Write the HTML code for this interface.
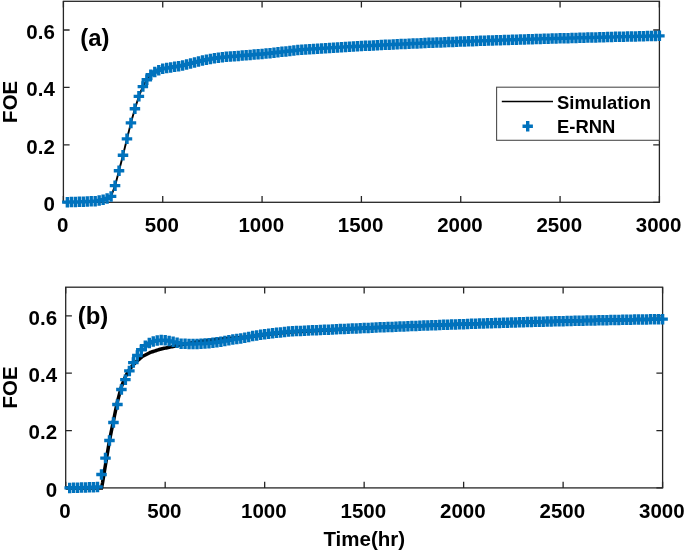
<!DOCTYPE html>
<html lang="en">
<head>
<meta charset="utf-8">
<title>FOE vs Time</title>
<style>
html,body{margin:0;padding:0;background:#fff;}
body{width:685px;height:552px;overflow:hidden;}
svg{display:block;}
</style>
</head>
<body>
<svg width="685" height="552" viewBox="0 0 685 552">
<rect width="685" height="552" fill="#fff"/>
<rect x="63.4" y="1.3" width="596.0" height="201.0" fill="none" stroke="#262626" stroke-width="1.3"/><path d="M63.40 202.3v-6.2M63.40 1.3v6.2M162.73 202.3v-6.2M162.73 1.3v6.2M262.07 202.3v-6.2M262.07 1.3v6.2M361.40 202.3v-6.2M361.40 1.3v6.2M460.73 202.3v-6.2M460.73 1.3v6.2M560.07 202.3v-6.2M560.07 1.3v6.2M659.40 202.3v-6.2M659.40 1.3v6.2M63.4 202.30h6.2M659.4 202.30h-6.2M63.4 144.87h6.2M659.4 144.87h-6.2M63.4 87.44h6.2M63.4 30.01h6.2M659.4 30.01h-6.2" stroke="#262626" stroke-width="1.3" fill="none"/>
<path d="M63.40 202.30L64.39 202.26L65.39 202.23L66.38 202.19L67.37 202.16L68.37 202.13L69.36 202.10L70.35 202.08L71.35 202.05L72.34 202.02L73.33 201.99L74.33 201.97L75.32 201.94L76.31 201.91L77.31 201.89L78.30 201.86L79.29 201.83L80.29 201.81L81.28 201.78L82.27 201.75L83.27 201.73L84.26 201.68L85.25 201.63L86.25 201.58L87.24 201.53L88.23 201.49L89.23 201.44L90.22 201.39L91.21 201.34L92.21 201.30L93.20 201.25L94.19 201.20L95.19 201.15L96.18 200.97L97.17 200.79L98.17 200.61L99.16 200.43L100.15 200.25L101.15 200.07L102.14 199.90L103.13 199.72L104.13 199.39L105.12 199.07L106.11 198.75L107.11 198.42L108.10 197.92L109.09 197.42L110.09 196.92L111.08 196.41L112.07 193.72L113.07 191.03L114.06 188.34L115.05 185.65L116.05 181.91L117.04 178.18L118.03 174.45L119.03 170.71L120.02 166.84L121.01 162.96L122.01 159.09L123.00 155.21L123.99 151.12L124.99 147.03L125.98 142.93L126.97 138.84L127.97 134.85L128.96 130.86L129.95 126.87L130.95 122.88L131.94 119.33L132.93 115.78L133.93 112.24L134.92 108.69L135.91 105.60L136.91 102.52L137.90 99.43L138.89 96.34L139.89 93.90L140.88 91.46L141.87 89.02L142.87 86.58L143.86 84.86L144.85 83.14L145.85 81.41L146.84 79.69L147.83 78.47L148.83 77.25L149.82 76.03L150.81 74.81L151.81 74.09L152.80 73.37L153.79 72.66L154.79 71.94L155.78 71.51L156.77 71.08L157.77 70.65L158.76 70.21L159.75 69.86L160.75 69.50L161.74 69.14L162.73 68.78L163.73 68.61L164.72 68.45L165.71 68.28L166.71 68.12L167.70 67.95L168.69 67.79L169.69 67.62L170.68 67.46L171.67 67.29L172.67 67.13L173.66 66.96L174.65 66.80L175.65 66.63L176.64 66.47L177.63 66.30L178.63 66.14L179.62 65.97L180.61 65.81L181.61 65.64L182.60 65.48L183.59 65.21L184.59 64.95L185.58 64.68L186.57 64.41L187.57 64.16L188.56 63.90L189.55 63.64L190.55 63.38L191.54 63.14L192.53 62.89L193.53 62.65L194.52 62.40L195.51 62.16L196.51 61.92L197.50 61.67L198.49 61.43L199.49 61.20L200.48 60.97L201.47 60.74L202.47 60.51L203.46 60.30L204.45 60.09L205.45 59.88L206.44 59.68L207.43 59.49L208.43 59.30L209.42 59.12L210.41 58.93L211.41 58.76L212.40 58.60L213.39 58.43L214.39 58.27L215.38 58.13L216.37 57.98L217.37 57.84L218.36 57.69L219.35 57.58L220.35 57.47L221.34 57.35L222.33 57.24L223.33 57.14L224.32 57.05L225.31 56.96L226.31 56.86L227.30 56.78L228.29 56.69L229.29 56.60L230.28 56.52L231.27 56.44L232.27 56.36L233.26 56.28L234.25 56.20L235.25 56.12L236.24 56.04L237.23 55.96L238.23 55.89L239.22 55.80L240.21 55.71L241.21 55.63L242.20 55.54L243.19 55.46L244.19 55.38L245.18 55.30L246.17 55.23L247.17 55.15L248.16 55.08L249.15 55.01L250.15 54.94L251.14 54.86L252.13 54.78L253.13 54.70L254.12 54.62L255.11 54.54L256.11 54.46L257.10 54.39L258.09 54.31L259.09 54.23L260.08 54.16L261.07 54.09L262.07 54.02L263.06 53.92L264.05 53.82L265.05 53.72L266.04 53.62L267.03 53.51L268.03 53.40L269.02 53.29L270.01 53.19L271.01 53.07L272.00 52.96L272.99 52.84L273.99 52.73L274.98 52.62L275.97 52.51L276.97 52.40L277.96 52.30L278.95 52.18L279.95 52.07L280.94 51.95L281.93 51.84L282.93 51.73L283.92 51.62L284.91 51.51L285.91 51.41L286.90 51.30L287.89 51.19L288.89 51.08L289.88 50.98L290.87 50.87L291.87 50.76L292.86 50.65L293.85 50.55L294.85 50.43L295.84 50.32L296.83 50.20L297.83 50.09L298.82 49.98L299.81 49.87L300.81 49.76L301.80 49.65L302.79 49.59L303.79 49.53L304.78 49.47L305.77 49.40L306.77 49.34L307.76 49.28L308.75 49.21L309.75 49.15L310.74 49.09L311.73 49.02L312.73 48.96L313.72 48.90L314.71 48.83L315.71 48.77L316.70 48.71L317.69 48.64L318.69 48.58L319.68 48.52L320.67 48.45L321.67 48.39L322.66 48.33L323.65 48.27L324.65 48.20L325.64 48.14L326.63 48.08L327.63 48.01L328.62 47.95L329.61 47.89L330.61 47.82L331.60 47.76L332.59 47.70L333.59 47.63L334.58 47.57L335.57 47.51L336.57 47.44L337.56 47.38L338.55 47.32L339.55 47.25L340.54 47.19L341.53 47.13L342.53 47.08L343.52 47.02L344.51 46.97L345.51 46.92L346.50 46.87L347.49 46.81L348.49 46.76L349.48 46.71L350.47 46.66L351.47 46.60L352.46 46.55L353.45 46.50L354.45 46.45L355.44 46.39L356.43 46.34L357.43 46.29L358.42 46.24L359.41 46.18L360.41 46.13L361.40 46.08L362.39 46.03L363.39 45.98L364.38 45.92L365.37 45.87L366.37 45.82L367.36 45.77L368.35 45.71L369.35 45.66L370.34 45.61L371.33 45.56L372.33 45.50L373.32 45.45L374.31 45.40L375.31 45.35L376.30 45.29L377.29 45.24L378.29 45.19L379.28 45.14L380.27 45.08L381.27 45.03L382.26 44.99L383.25 44.94L384.25 44.89L385.24 44.85L386.23 44.80L387.23 44.76L388.22 44.71L389.21 44.66L390.21 44.62L391.20 44.57L392.19 44.53L393.19 44.48L394.18 44.43L395.17 44.39L396.17 44.34L397.16 44.30L398.15 44.25L399.15 44.20L400.14 44.16L401.13 44.11L402.13 44.07L403.12 44.02L404.11 43.98L405.11 43.93L406.10 43.88L407.09 43.84L408.09 43.79L409.08 43.75L410.07 43.70L411.07 43.65L412.06 43.61L413.05 43.56L414.05 43.52L415.04 43.47L416.03 43.42L417.03 43.38L418.02 43.33L419.01 43.29L420.01 43.24L421.00 43.19L421.99 43.15L422.99 43.11L423.98 43.07L424.97 43.03L425.97 42.99L426.96 42.95L427.95 42.91L428.95 42.87L429.94 42.83L430.93 42.79L431.93 42.75L432.92 42.71L433.91 42.67L434.91 42.63L435.90 42.59L436.89 42.55L437.89 42.51L438.88 42.47L439.87 42.43L440.87 42.39L441.86 42.35L442.85 42.31L443.85 42.27L444.84 42.23L445.83 42.19L446.83 42.15L447.82 42.11L448.81 42.07L449.81 42.03L450.80 41.99L451.79 41.95L452.79 41.91L453.78 41.87L454.77 41.83L455.77 41.79L456.76 41.75L457.75 41.71L458.75 41.67L459.74 41.63L460.73 41.59L461.73 41.55L462.72 41.51L463.71 41.48L464.71 41.44L465.70 41.41L466.69 41.37L467.69 41.33L468.68 41.30L469.67 41.26L470.67 41.23L471.66 41.19L472.65 41.16L473.65 41.12L474.64 41.08L475.63 41.05L476.63 41.01L477.62 40.98L478.61 40.94L479.61 40.90L480.60 40.87L481.59 40.83L482.59 40.80L483.58 40.76L484.57 40.72L485.57 40.69L486.56 40.65L487.55 40.62L488.55 40.58L489.54 40.55L490.53 40.51L491.53 40.47L492.52 40.44L493.51 40.40L494.51 40.37L495.50 40.33L496.49 40.29L497.49 40.26L498.48 40.22L499.47 40.19L500.47 40.15L501.46 40.12L502.45 40.09L503.45 40.06L504.44 40.03L505.43 40.00L506.43 39.97L507.42 39.93L508.41 39.90L509.41 39.87L510.40 39.84L511.39 39.81L512.39 39.78L513.38 39.75L514.37 39.72L515.37 39.69L516.36 39.66L517.35 39.63L518.35 39.59L519.34 39.56L520.33 39.53L521.33 39.50L522.32 39.47L523.31 39.44L524.31 39.41L525.30 39.38L526.29 39.35L527.29 39.32L528.28 39.29L529.27 39.26L530.27 39.22L531.26 39.19L532.25 39.16L533.25 39.13L534.24 39.10L535.23 39.07L536.23 39.04L537.22 39.01L538.21 38.98L539.21 38.95L540.20 38.92L541.19 38.89L542.19 38.86L543.18 38.83L544.17 38.80L545.17 38.78L546.16 38.75L547.15 38.72L548.15 38.69L549.14 38.66L550.13 38.64L551.13 38.61L552.12 38.58L553.11 38.55L554.11 38.52L555.10 38.50L556.09 38.47L557.09 38.44L558.08 38.41L559.07 38.38L560.07 38.36L561.06 38.33L562.05 38.30L563.05 38.27L564.04 38.24L565.03 38.22L566.03 38.19L567.02 38.16L568.01 38.13L569.01 38.10L570.00 38.08L570.99 38.05L571.99 38.02L572.98 37.99L573.97 37.96L574.97 37.94L575.96 37.91L576.95 37.88L577.95 37.85L578.94 37.82L579.93 37.80L580.93 37.77L581.92 37.74L582.91 37.72L583.91 37.69L584.90 37.67L585.89 37.64L586.89 37.61L587.88 37.59L588.87 37.56L589.87 37.54L590.86 37.51L591.85 37.49L592.85 37.46L593.84 37.43L594.83 37.41L595.83 37.38L596.82 37.36L597.81 37.33L598.81 37.30L599.80 37.28L600.79 37.25L601.79 37.23L602.78 37.20L603.77 37.18L604.77 37.15L605.76 37.12L606.75 37.10L607.75 37.07L608.74 37.05L609.73 37.02L610.73 36.99L611.72 36.97L612.71 36.94L613.71 36.92L614.70 36.89L615.69 36.87L616.69 36.84L617.68 36.81L618.67 36.79L619.67 36.76L620.66 36.74L621.65 36.72L622.65 36.69L623.64 36.67L624.63 36.65L625.63 36.62L626.62 36.60L627.61 36.58L628.61 36.56L629.60 36.53L630.59 36.51L631.59 36.49L632.58 36.46L633.57 36.44L634.57 36.42L635.56 36.39L636.55 36.37L637.55 36.35L638.54 36.33L639.53 36.30L640.53 36.28L641.52 36.26L642.51 36.23L643.51 36.21L644.50 36.19L645.49 36.16L646.49 36.14L647.48 36.12L648.47 36.10L649.47 36.07L650.46 36.05L651.45 36.03L652.45 36.00L653.44 35.98L654.43 35.96L655.43 35.94L656.42 35.91L657.41 35.89L658.41 35.87L659.40 35.84" fill="none" stroke="#000" stroke-width="1.9" stroke-linejoin="round"/>
<path d="M62.12 202.16H72.62M67.37 196.91V207.41M66.10 202.05H76.60M71.35 196.80V207.30M70.07 201.94H80.57M75.32 196.69V207.19M74.04 201.83H84.54M79.29 196.58V207.08M78.02 201.73H88.52M83.27 196.48V206.98M81.99 201.53H92.49M87.24 196.28V206.78M85.96 201.34H96.46M91.21 196.09V206.59M89.94 201.15H100.44M95.19 195.90V206.40M93.91 200.43H104.41M99.16 195.18V205.68M97.88 199.72H108.38M103.13 194.47V204.97M101.86 198.42H112.36M107.11 193.17V203.67M105.83 196.41H116.33M111.08 191.16V201.66M109.80 185.65H120.30M115.05 180.40V190.90M113.78 170.71H124.28M119.03 165.46V175.96M117.75 155.21H128.25M123.00 149.96V160.46M121.72 138.84H132.22M126.97 133.59V144.09M125.70 122.88H136.20M130.95 117.63V128.13M129.67 108.69H140.17M134.92 103.44V113.94M133.64 96.34H144.14M138.89 91.09V101.59M137.62 86.58H148.12M142.87 81.33V91.83M141.59 79.69H152.09M146.84 74.44V84.94M145.56 74.81H156.06M150.81 69.56V80.06M149.54 71.94H160.04M154.79 66.69V77.19M153.51 70.21H164.01M158.76 64.96V75.46M157.48 68.78H167.98M162.73 63.53V74.03M161.46 68.12H171.96M166.71 62.87V73.37M165.43 67.46H175.93M170.68 62.21V72.71M169.40 66.80H179.90M174.65 61.55V72.05M173.38 66.14H183.88M178.63 60.89V71.39M177.35 65.48H187.85M182.60 60.23V70.73M181.32 64.41H191.82M186.57 59.16V69.66M185.30 63.38H195.80M190.55 58.13V68.63M189.27 62.40H199.77M194.52 57.15V67.65M193.24 61.43H203.74M198.49 56.18V66.68M197.22 60.51H207.72M202.47 55.26V65.76M201.19 59.68H211.69M206.44 54.43V64.93M205.16 58.93H215.66M210.41 53.68V64.18M209.14 58.27H219.64M214.39 53.02V63.52M213.11 57.69H223.61M218.36 52.44V62.94M217.08 57.24H227.58M222.33 51.99V62.49M221.06 56.86H231.56M226.31 51.61V62.11M225.03 56.52H235.53M230.28 51.27V61.77M229.00 56.20H239.50M234.25 50.95V61.45M232.98 55.89H243.48M238.23 50.64V61.14M236.95 55.54H247.45M242.20 50.29V60.79M240.92 55.23H251.42M246.17 49.98V60.48M244.90 54.94H255.40M250.15 49.69V60.19M248.87 54.62H259.37M254.12 49.37V59.87M252.84 54.31H263.34M258.09 49.06V59.56M256.82 54.02H267.32M262.07 48.77V59.27M260.79 53.62H271.29M266.04 48.37V58.87M264.76 53.19H275.26M270.01 47.94V58.44M268.74 52.73H279.24M273.99 47.48V57.98M272.71 52.30H283.21M277.96 47.05V57.55M276.68 51.84H287.18M281.93 46.59V57.09M280.66 51.41H291.16M285.91 46.16V56.66M284.63 50.98H295.13M289.88 45.73V56.23M288.60 50.55H299.10M293.85 45.30V55.80M292.58 50.09H303.08M297.83 44.84V55.34M296.55 49.65H307.05M301.80 44.40V54.90M300.52 49.40H311.02M305.77 44.15V54.65M304.50 49.15H315.00M309.75 43.90V54.40M308.47 48.90H318.97M313.72 43.65V54.15M312.44 48.64H322.94M317.69 43.39V53.89M316.42 48.39H326.92M321.67 43.14V53.64M320.39 48.14H330.89M325.64 42.89V53.39M324.36 47.89H334.86M329.61 42.64V53.14M328.34 47.63H338.84M333.59 42.38V52.88M332.31 47.38H342.81M337.56 42.13V52.63M336.28 47.13H346.78M341.53 41.88V52.38M340.26 46.92H350.76M345.51 41.67V52.17M344.23 46.71H354.73M349.48 41.46V51.96M348.20 46.50H358.70M353.45 41.25V51.75M352.18 46.29H362.68M357.43 41.04V51.54M356.15 46.08H366.65M361.40 40.83V51.33M360.12 45.87H370.62M365.37 40.62V51.12M364.10 45.66H374.60M369.35 40.41V50.91M368.07 45.45H378.57M373.32 40.20V50.70M372.04 45.24H382.54M377.29 39.99V50.49M376.02 45.03H386.52M381.27 39.78V50.28M379.99 44.85H390.49M385.24 39.60V50.10M383.96 44.66H394.46M389.21 39.41V49.91M387.94 44.48H398.44M393.19 39.23V49.73M391.91 44.30H402.41M397.16 39.05V49.55M395.88 44.11H406.38M401.13 38.86V49.36M399.86 43.93H410.36M405.11 38.68V49.18M403.83 43.75H414.33M409.08 38.50V49.00M407.80 43.56H418.30M413.05 38.31V48.81M411.78 43.38H422.28M417.03 38.13V48.63M415.75 43.19H426.25M421.00 37.94V48.44M419.72 43.03H430.22M424.97 37.78V48.28M423.70 42.87H434.20M428.95 37.62V48.12M427.67 42.71H438.17M432.92 37.46V47.96M431.64 42.55H442.14M436.89 37.30V47.80M435.62 42.39H446.12M440.87 37.14V47.64M439.59 42.23H450.09M444.84 36.98V47.48M443.56 42.07H454.06M448.81 36.82V47.32M447.54 41.91H458.04M452.79 36.66V47.16M451.51 41.75H462.01M456.76 36.50V47.00M455.48 41.59H465.98M460.73 36.34V46.84M459.46 41.44H469.96M464.71 36.19V46.69M463.43 41.30H473.93M468.68 36.05V46.55M467.40 41.16H477.90M472.65 35.91V46.41M471.38 41.01H481.88M476.63 35.76V46.26M475.35 40.87H485.85M480.60 35.62V46.12M479.32 40.72H489.82M484.57 35.47V45.97M483.30 40.58H493.80M488.55 35.33V45.83M487.27 40.44H497.77M492.52 35.19V45.69M491.24 40.29H501.74M496.49 35.04V45.54M495.22 40.15H505.72M500.47 34.90V45.40M499.19 40.03H509.69M504.44 34.78V45.28M503.16 39.90H513.66M508.41 34.65V45.15M507.14 39.78H517.64M512.39 34.53V45.03M511.11 39.66H521.61M516.36 34.41V44.91M515.08 39.53H525.58M520.33 34.28V44.78M519.06 39.41H529.56M524.31 34.16V44.66M523.03 39.29H533.53M528.28 34.04V44.54M527.00 39.16H537.50M532.25 33.91V44.41M530.98 39.04H541.48M536.23 33.79V44.29M534.95 38.92H545.45M540.20 33.67V44.17M538.92 38.80H549.42M544.17 33.55V44.05M542.90 38.69H553.40M548.15 33.44V43.94M546.87 38.58H557.37M552.12 33.33V43.83M550.84 38.47H561.34M556.09 33.22V43.72M554.82 38.36H565.32M560.07 33.11V43.61M558.79 38.24H569.29M564.04 32.99V43.49M562.76 38.13H573.26M568.01 32.88V43.38M566.74 38.02H577.24M571.99 32.77V43.27M570.71 37.91H581.21M575.96 32.66V43.16M574.68 37.80H585.18M579.93 32.55V43.05M578.66 37.69H589.16M583.91 32.44V42.94M582.63 37.59H593.13M587.88 32.34V42.84M586.60 37.49H597.10M591.85 32.24V42.74M590.58 37.38H601.08M595.83 32.13V42.63M594.55 37.28H605.05M599.80 32.03V42.53M598.52 37.18H609.02M603.77 31.93V42.43M602.50 37.07H613.00M607.75 31.82V42.32M606.47 36.97H616.97M611.72 31.72V42.22M610.44 36.87H620.94M615.69 31.62V42.12M614.42 36.76H624.92M619.67 31.51V42.01M618.39 36.67H628.89M623.64 31.42V41.92M622.36 36.58H632.86M627.61 31.33V41.83M626.34 36.49H636.84M631.59 31.24V41.74M630.31 36.39H640.81M635.56 31.14V41.64M634.28 36.30H644.78M639.53 31.05V41.55M638.26 36.21H648.76M643.51 30.96V41.46M642.23 36.12H652.73M647.48 30.87V41.37M646.20 36.03H656.70M651.45 30.78V41.28M650.18 35.94H660.68M655.43 30.69V41.19M654.15 35.84H664.65M659.40 30.59V41.09" fill="none" stroke="#0072BD" stroke-width="3.4"/>
<rect x="65.7" y="287.2" width="596.9" height="200.7" fill="none" stroke="#262626" stroke-width="1.3"/><path d="M65.70 487.9v-6.2M65.70 287.2v6.2M165.18 487.9v-6.2M165.18 287.2v6.2M264.67 487.9v-6.2M264.67 287.2v6.2M364.15 487.9v-6.2M364.15 287.2v6.2M463.63 487.9v-6.2M463.63 287.2v6.2M563.12 487.9v-6.2M563.12 287.2v6.2M662.60 487.9v-6.2M662.60 287.2v6.2M65.7 487.90h6.2M662.6 487.90h-6.2M65.7 430.56h6.2M662.6 430.56h-6.2M65.7 373.21h6.2M662.6 373.21h-6.2M65.7 315.87h6.2M662.6 315.87h-6.2" stroke="#262626" stroke-width="1.3" fill="none"/>
<path d="M65.70 487.90L66.69 487.90L67.69 487.90L68.68 487.90L69.68 487.90L70.67 487.90L71.67 487.90L72.66 487.90L73.66 487.90L74.65 487.90L75.65 487.90L76.64 487.90L77.64 487.90L78.63 487.90L79.63 487.90L80.62 487.90L81.62 487.90L82.61 487.90L83.61 487.90L84.60 487.90L85.60 487.90L86.59 487.90L87.59 487.90L88.58 487.90L89.58 487.90L90.57 487.90L91.57 487.90L92.56 487.90L93.56 487.90L94.55 487.90L95.55 487.90L96.54 487.90L97.53 487.90L98.53 487.90L99.52 487.90L100.52 487.90L101.51 487.90L102.51 483.01L103.50 476.90L104.50 470.79L105.49 464.68L106.49 458.66L107.48 452.63L108.48 446.61L109.47 440.59L110.47 435.65L111.46 430.70L112.46 425.75L113.45 420.81L114.45 416.01L115.44 411.20L116.44 406.40L117.43 401.60L118.43 397.87L119.42 394.14L120.42 390.42L121.41 386.69L122.41 384.18L123.40 381.67L124.40 379.16L125.39 376.65L126.38 374.93L127.38 373.21L128.37 371.49L129.37 369.77L130.36 368.48L131.36 367.19L132.35 365.90L133.35 364.61L134.34 363.66L135.34 362.70L136.33 361.75L137.33 360.79L138.32 359.91L139.32 359.05L140.31 358.19L141.31 357.33L142.30 356.47L143.30 355.97L144.29 355.47L145.29 354.97L146.28 354.47L147.28 353.97L148.27 353.47L149.27 352.97L150.26 352.47L151.26 352.11L152.25 351.79L153.25 351.47L154.24 351.14L155.24 350.82L156.23 350.50L157.22 350.17L158.22 349.85L159.21 349.53L160.21 349.20L161.20 348.95L162.20 348.74L163.19 348.54L164.19 348.33L165.18 348.13L166.18 347.92L167.17 347.72L168.17 347.51L169.16 347.31L170.16 347.10L171.15 346.89L172.15 346.67L173.14 346.44L174.14 346.22L175.13 345.99L176.13 345.77L177.12 345.55L178.12 345.35L179.11 345.15L180.11 344.96L181.10 344.76L182.10 344.56L183.09 344.36L184.09 344.17L185.08 343.97L186.07 343.79L187.07 343.61L188.06 343.43L189.06 343.25L190.05 343.07L191.05 342.89L192.04 342.72L193.04 342.54L194.03 342.37L195.03 342.21L196.02 342.05L197.02 341.89L198.01 341.73L199.01 341.57L200.00 341.41L201.00 341.25L201.99 341.12L202.99 340.99L203.98 340.87L204.98 340.74L205.97 340.62L206.97 340.49L207.96 340.37L208.96 340.24L209.95 340.13L210.95 340.03L211.94 339.92L212.94 339.81L213.93 339.70L214.93 339.60L215.92 339.49L216.91 339.38L217.91 339.29L218.90 339.20L219.90 339.11L220.89 339.02L221.89 338.93L222.88 338.84L223.88 338.75L224.87 338.67L225.87 338.59L226.86 338.52L227.86 338.45L228.85 338.38L229.85 338.31L230.84 338.24L231.84 338.16L232.83 338.09L233.83 338.02L234.82 337.95L235.82 337.88L236.81 337.81L237.81 337.73L238.80 337.66L239.80 337.59L240.79 337.52L241.79 337.43L242.78 337.34L243.78 337.25L244.77 337.16L245.76 337.07L246.76 336.98L247.75 336.89L248.75 336.80L249.74 336.68L250.74 336.55L251.73 336.43L252.73 336.30L253.72 336.17L254.72 336.05L255.71 335.92L256.71 335.80L257.70 335.67L258.70 335.55L259.69 335.42L260.69 335.30L261.68 335.17L262.68 335.05L263.67 334.92L264.67 334.79L265.66 334.68L266.66 334.57L267.65 334.45L268.65 334.34L269.64 334.22L270.64 334.11L271.63 333.99L272.63 333.88L273.62 333.77L274.62 333.66L275.61 333.55L276.60 333.45L277.60 333.34L278.59 333.23L279.59 333.12L280.58 333.02L281.58 332.92L282.57 332.82L283.57 332.72L284.56 332.62L285.56 332.52L286.55 332.41L287.55 332.31L288.54 332.21L289.54 332.16L290.53 332.10L291.53 332.04L292.52 331.98L293.52 331.92L294.51 331.86L295.51 331.80L296.50 331.74L297.50 331.68L298.49 331.62L299.49 331.56L300.48 331.50L301.48 331.45L302.47 331.39L303.47 331.33L304.46 331.27L305.45 331.21L306.45 331.16L307.44 331.11L308.44 331.06L309.43 331.00L310.43 330.95L311.42 330.90L312.42 330.84L313.41 330.79L314.41 330.74L315.40 330.68L316.40 330.63L317.39 330.58L318.39 330.53L319.38 330.47L320.38 330.42L321.37 330.37L322.37 330.31L323.36 330.26L324.36 330.21L325.35 330.16L326.35 330.11L327.34 330.06L328.34 330.01L329.33 329.96L330.33 329.91L331.32 329.86L332.32 329.81L333.31 329.76L334.31 329.71L335.30 329.66L336.29 329.61L337.29 329.55L338.28 329.50L339.28 329.45L340.27 329.40L341.27 329.35L342.26 329.30L343.26 329.25L344.25 329.20L345.25 329.15L346.24 329.09L347.24 329.04L348.23 328.99L349.23 328.93L350.22 328.88L351.22 328.82L352.21 328.77L353.21 328.71L354.20 328.66L355.20 328.60L356.19 328.55L357.19 328.50L358.18 328.44L359.18 328.39L360.17 328.33L361.17 328.28L362.16 328.22L363.16 328.17L364.15 328.11L365.14 328.07L366.14 328.02L367.13 327.98L368.13 327.93L369.12 327.88L370.12 327.84L371.11 327.79L372.11 327.75L373.10 327.70L374.10 327.66L375.09 327.61L376.09 327.56L377.08 327.52L378.08 327.47L379.07 327.43L380.07 327.38L381.06 327.33L382.06 327.29L383.05 327.24L384.05 327.20L385.04 327.16L386.04 327.12L387.03 327.08L388.03 327.04L389.02 327.00L390.02 326.96L391.01 326.92L392.01 326.88L393.00 326.84L394.00 326.80L394.99 326.76L395.98 326.71L396.98 326.67L397.97 326.63L398.97 326.59L399.96 326.55L400.96 326.51L401.95 326.47L402.95 326.43L403.94 326.39L404.94 326.35L405.93 326.31L406.93 326.27L407.92 326.23L408.92 326.19L409.91 326.15L410.91 326.11L411.90 326.07L412.90 326.03L413.89 325.99L414.89 325.95L415.88 325.91L416.88 325.87L417.87 325.83L418.87 325.79L419.86 325.75L420.86 325.71L421.85 325.67L422.85 325.63L423.84 325.59L424.83 325.55L425.83 325.52L426.82 325.48L427.82 325.44L428.81 325.41L429.81 325.37L430.80 325.34L431.80 325.30L432.79 325.26L433.79 325.23L434.78 325.19L435.78 325.15L436.77 325.12L437.77 325.08L438.76 325.04L439.76 325.01L440.75 324.97L441.75 324.93L442.74 324.90L443.74 324.86L444.73 324.82L445.73 324.79L446.72 324.75L447.72 324.71L448.71 324.68L449.71 324.64L450.70 324.60L451.70 324.57L452.69 324.53L453.69 324.49L454.68 324.46L455.67 324.42L456.67 324.38L457.66 324.35L458.66 324.31L459.65 324.28L460.65 324.24L461.64 324.20L462.64 324.17L463.63 324.13L464.63 324.10L465.62 324.06L466.62 324.03L467.61 324.00L468.61 323.96L469.60 323.93L470.60 323.90L471.59 323.87L472.59 323.83L473.58 323.80L474.58 323.77L475.57 323.73L476.57 323.70L477.56 323.67L478.56 323.63L479.55 323.60L480.55 323.57L481.54 323.54L482.54 323.50L483.53 323.47L484.52 323.44L485.52 323.40L486.51 323.37L487.51 323.34L488.50 323.30L489.50 323.27L490.49 323.24L491.49 323.21L492.48 323.17L493.48 323.14L494.47 323.11L495.47 323.07L496.46 323.04L497.46 323.01L498.45 322.97L499.45 322.94L500.44 322.91L501.44 322.88L502.43 322.84L503.43 322.81L504.42 322.78L505.42 322.75L506.41 322.72L507.41 322.69L508.40 322.66L509.40 322.63L510.39 322.60L511.39 322.57L512.38 322.55L513.38 322.52L514.37 322.49L515.36 322.46L516.36 322.43L517.35 322.40L518.35 322.37L519.34 322.34L520.34 322.31L521.33 322.28L522.33 322.25L523.32 322.22L524.32 322.19L525.31 322.16L526.31 322.13L527.30 322.10L528.30 322.08L529.29 322.05L530.29 322.02L531.28 321.99L532.28 321.96L533.27 321.93L534.27 321.90L535.26 321.87L536.26 321.84L537.25 321.81L538.25 321.78L539.24 321.75L540.24 321.72L541.23 321.69L542.23 321.66L543.22 321.63L544.21 321.61L545.21 321.58L546.20 321.56L547.20 321.53L548.19 321.51L549.19 321.48L550.18 321.46L551.18 321.43L552.17 321.41L553.17 321.38L554.16 321.36L555.16 321.33L556.15 321.31L557.15 321.28L558.14 321.26L559.14 321.23L560.13 321.21L561.13 321.18L562.12 321.16L563.12 321.13L564.11 321.11L565.11 321.08L566.10 321.06L567.10 321.03L568.09 321.01L569.09 320.98L570.08 320.96L571.08 320.93L572.07 320.91L573.07 320.88L574.06 320.86L575.05 320.83L576.05 320.81L577.04 320.78L578.04 320.76L579.03 320.73L580.03 320.71L581.02 320.68L582.02 320.66L583.01 320.63L584.01 320.61L585.00 320.59L586.00 320.57L586.99 320.55L587.99 320.53L588.98 320.51L589.98 320.49L590.97 320.47L591.97 320.45L592.96 320.43L593.96 320.41L594.95 320.39L595.95 320.37L596.94 320.35L597.94 320.33L598.93 320.31L599.93 320.29L600.92 320.27L601.92 320.25L602.91 320.23L603.90 320.21L604.90 320.19L605.89 320.17L606.89 320.15L607.88 320.13L608.88 320.11L609.87 320.09L610.87 320.07L611.86 320.05L612.86 320.03L613.85 320.01L614.85 319.99L615.84 319.97L616.84 319.95L617.83 319.93L618.83 319.91L619.82 319.89L620.82 319.87L621.81 319.85L622.81 319.83L623.80 319.81L624.80 319.79L625.79 319.78L626.79 319.76L627.78 319.74L628.78 319.72L629.77 319.71L630.77 319.69L631.76 319.67L632.75 319.66L633.75 319.64L634.74 319.62L635.74 319.60L636.73 319.59L637.73 319.57L638.72 319.55L639.72 319.54L640.71 319.52L641.71 319.50L642.70 319.48L643.70 319.47L644.69 319.45L645.69 319.43L646.68 319.42L647.68 319.40L648.67 319.38L649.67 319.36L650.66 319.35L651.66 319.33L652.65 319.31L653.65 319.29L654.64 319.28L655.64 319.26L656.63 319.24L657.63 319.23L658.62 319.21L659.62 319.19L660.61 319.17L661.61 319.16L662.60 319.14" fill="none" stroke="#000" stroke-width="3.5" stroke-linejoin="miter"/>
<path d="M64.43 487.90H74.93M69.68 482.65V493.15M68.41 487.79H78.91M73.66 482.54V493.04M72.39 487.68H82.89M77.64 482.43V492.93M76.37 487.58H86.87M81.62 482.33V492.83M80.35 487.47H90.85M85.60 482.22V492.72M84.33 487.33H94.83M89.58 482.08V492.58M88.31 487.18H98.81M93.56 481.93V492.43M92.28 487.04H102.78M97.53 481.79V492.29M96.26 474.57H106.76M101.51 469.32V479.82M100.24 458.08H110.74M105.49 452.83V463.33M104.22 440.45H114.72M109.47 435.20V445.70M108.20 422.53H118.70M113.45 417.28V427.78M112.18 404.47H122.68M117.43 399.22V409.72M116.16 389.56H126.66M121.41 384.31V394.81M120.14 379.67H130.64M125.39 374.42V384.92M124.12 370.92H134.62M129.37 365.67V376.17M128.10 362.61H138.60M133.35 357.36V367.86M132.08 355.44H142.58M137.33 350.19V360.69M136.06 349.70H146.56M141.31 344.45V354.95M140.04 345.69H150.54M145.29 340.44V350.94M144.02 343.11H154.52M149.27 337.86V348.36M148.00 341.39H158.50M153.25 336.14V346.64M151.97 340.53H162.47M157.22 335.28V345.78M155.95 340.10H166.45M161.20 334.85V345.35M159.93 340.24H170.43M165.18 334.99V345.49M163.91 341.04H174.41M169.16 335.79V346.29M167.89 341.86H178.39M173.14 336.61V347.11M171.87 342.71H182.37M177.12 337.46V347.96M175.85 343.63H186.35M181.10 338.38V348.88M179.83 343.82H190.33M185.08 338.57V349.07M183.81 344.01H194.31M189.06 338.76V349.26M187.79 344.05H198.29M193.04 338.80V349.30M191.77 343.90H202.27M197.02 338.65V349.15M195.75 343.76H206.25M201.00 338.51V349.01M199.73 343.51H210.23M204.98 338.26V348.76M203.71 343.24H214.21M208.96 337.99V348.49M207.69 342.87H218.19M212.94 337.62V348.12M211.66 342.28H222.16M216.91 337.03V347.53M215.64 341.68H226.14M220.89 336.43V346.93M219.62 340.99H230.12M224.87 335.74V346.24M223.60 340.28H234.10M228.85 335.03V345.53M227.58 339.58H238.08M232.83 334.33V344.83M231.56 338.98H242.06M236.81 333.73V344.23M235.54 338.39H246.04M240.79 333.14V343.64M239.52 337.68H250.02M244.77 332.43V342.93M243.50 336.90H254.00M248.75 331.65V342.15M247.48 336.11H257.98M252.73 330.86V341.36M251.46 335.43H261.96M256.71 330.18V340.68M255.44 334.82H265.94M260.69 329.57V340.07M259.42 334.28H269.92M264.67 329.03V339.53M263.40 333.79H273.90M268.65 328.54V339.04M267.38 333.30H277.88M272.63 328.05V338.55M271.35 332.82H281.85M276.60 327.57V338.07M275.33 332.39H285.83M280.58 327.14V337.64M279.31 331.96H289.81M284.56 326.71V337.21M283.29 331.55H293.79M288.54 326.30V336.80M287.27 331.34H297.77M292.52 326.09V336.59M291.25 331.12H301.75M296.50 325.87V336.37M295.23 330.91H305.73M300.48 325.66V336.16M299.21 330.69H309.71M304.46 325.44V335.94M303.19 330.52H313.69M308.44 325.27V335.77M307.17 330.34H317.67M312.42 325.09V335.59M311.15 330.16H321.65M316.40 324.91V335.41M315.13 329.98H325.63M320.38 324.73V335.23M319.11 329.81H329.61M324.36 324.56V335.06M323.09 329.63H333.59M328.34 324.38V334.88M327.07 329.45H337.57M332.32 324.20V334.70M331.04 329.27H341.54M336.29 324.02V334.52M335.02 329.09H345.52M340.27 323.84V334.34M339.00 328.92H349.50M344.25 323.67V334.17M342.98 328.74H353.48M348.23 323.49V333.99M346.96 328.57H357.46M352.21 323.32V333.82M350.94 328.40H361.44M356.19 323.15V333.65M354.92 328.23H365.42M360.17 322.98V333.48M358.90 328.06H369.40M364.15 322.81V333.31M362.88 327.88H373.38M368.13 322.63V333.13M366.86 327.71H377.36M372.11 322.46V332.96M370.84 327.54H381.34M376.09 322.29V332.79M374.82 327.37H385.32M380.07 322.12V332.62M378.80 327.20H389.30M384.05 321.95V332.45M382.78 327.04H393.28M388.03 321.79V332.29M386.76 326.88H397.26M392.01 321.63V332.13M390.73 326.71H401.23M395.98 321.46V331.96M394.71 326.55H405.21M399.96 321.30V331.80M398.69 326.39H409.19M403.94 321.14V331.64M402.67 326.23H413.17M407.92 320.98V331.48M406.65 326.07H417.15M411.90 320.82V331.32M410.63 325.91H421.13M415.88 320.66V331.16M414.61 325.75H425.11M419.86 320.50V331.00M418.59 325.59H429.09M423.84 320.34V330.84M422.57 325.44H433.07M427.82 320.19V330.69M426.55 325.30H437.05M431.80 320.05V330.55M430.53 325.15H441.03M435.78 319.90V330.40M434.51 325.01H445.01M439.76 319.76V330.26M438.49 324.86H448.99M443.74 319.61V330.11M442.47 324.71H452.97M447.72 319.46V329.96M446.45 324.57H456.95M451.70 319.32V329.82M450.42 324.42H460.92M455.67 319.17V329.67M454.40 324.28H464.90M459.65 319.03V329.53M458.38 324.13H468.88M463.63 318.88V329.38M462.36 324.00H472.86M467.61 318.75V329.25M466.34 323.87H476.84M471.59 318.62V329.12M470.32 323.73H480.82M475.57 318.48V328.98M474.30 323.60H484.80M479.55 318.35V328.85M478.28 323.47H488.78M483.53 318.22V328.72M482.26 323.34H492.76M487.51 318.09V328.59M486.24 323.21H496.74M491.49 317.96V328.46M490.22 323.07H500.72M495.47 317.82V328.32M494.20 322.94H504.70M499.45 317.69V328.19M498.18 322.81H508.68M503.43 317.56V328.06M502.16 322.69H512.66M507.41 317.44V327.94M506.14 322.57H516.64M511.39 317.32V327.82M510.11 322.46H520.61M515.36 317.21V327.71M514.09 322.34H524.59M519.34 317.09V327.59M518.07 322.22H528.57M523.32 316.97V327.47M522.05 322.10H532.55M527.30 316.85V327.35M526.03 321.99H536.53M531.28 316.74V327.24M530.01 321.87H540.51M535.26 316.62V327.12M533.99 321.75H544.49M539.24 316.50V327.00M537.97 321.63H548.47M543.22 316.38V326.88M541.95 321.53H552.45M547.20 316.28V326.78M545.93 321.43H556.43M551.18 316.18V326.68M549.91 321.33H560.41M555.16 316.08V326.58M553.89 321.23H564.39M559.14 315.98V326.48M557.87 321.13H568.37M563.12 315.88V326.38M561.85 321.03H572.35M567.10 315.78V326.28M565.83 320.93H576.33M571.08 315.68V326.18M569.80 320.83H580.30M575.05 315.58V326.08M573.78 320.73H584.28M579.03 315.48V325.98M577.76 320.63H588.26M583.01 315.38V325.88M581.74 320.55H592.24M586.99 315.30V325.80M585.72 320.47H596.22M590.97 315.22V325.72M589.70 320.39H600.20M594.95 315.14V325.64M593.68 320.31H604.18M598.93 315.06V325.56M597.66 320.23H608.16M602.91 314.98V325.48M601.64 320.15H612.14M606.89 314.90V325.40M605.62 320.07H616.12M610.87 314.82V325.32M609.60 319.99H620.10M614.85 314.74V325.24M613.58 319.91H624.08M618.83 314.66V325.16M617.56 319.83H628.06M622.81 314.58V325.08M621.54 319.76H632.04M626.79 314.51V325.01M625.52 319.69H636.02M630.77 314.44V324.94M629.49 319.62H639.99M634.74 314.37V324.87M633.47 319.55H643.97M638.72 314.30V324.80M637.45 319.48H647.95M642.70 314.23V324.73M641.43 319.42H651.93M646.68 314.17V324.67M645.41 319.35H655.91M650.66 314.10V324.60M649.39 319.28H659.89M654.64 314.03V324.53M653.37 319.21H663.87M658.62 313.96V324.46M657.35 319.14H667.85M662.60 313.89V324.39" fill="none" stroke="#0072BD" stroke-width="3.4"/>
<g font-family="'Liberation Sans', Arial, Helvetica, sans-serif" font-weight="700" fill="#000" font-size="20.5">
<text x="62.60" y="232.30" text-anchor="middle">0</text><text x="161.93" y="232.30" text-anchor="middle">500</text><text x="261.27" y="232.30" text-anchor="middle">1000</text><text x="360.60" y="232.30" text-anchor="middle">1500</text><text x="459.93" y="232.30" text-anchor="middle">2000</text><text x="559.27" y="232.30" text-anchor="middle">2500</text><text x="658.60" y="232.30" text-anchor="middle">3000</text><text x="54.80" y="211.30" text-anchor="end">0</text><text x="54.80" y="153.87" text-anchor="end">0.2</text><text x="54.80" y="96.44" text-anchor="end">0.4</text><text x="54.80" y="39.01" text-anchor="end">0.6</text>
<text x="64.90" y="517.70" text-anchor="middle">0</text><text x="164.38" y="517.70" text-anchor="middle">500</text><text x="263.87" y="517.70" text-anchor="middle">1000</text><text x="363.35" y="517.70" text-anchor="middle">1500</text><text x="462.83" y="517.70" text-anchor="middle">2000</text><text x="562.32" y="517.70" text-anchor="middle">2500</text><text x="661.80" y="517.70" text-anchor="middle">3000</text><text x="57.10" y="496.60" text-anchor="end">0</text><text x="57.10" y="439.26" text-anchor="end">0.2</text><text x="57.10" y="381.91" text-anchor="end">0.4</text><text x="57.10" y="324.57" text-anchor="end">0.6</text>
<text x="80.3" y="46.0" font-size="23.9">(a)</text>
<text x="77.8" y="324.0" font-size="23.9">(b)</text>
<text transform="translate(16.5 101.8) rotate(-90)" text-anchor="middle" font-size="20.5">FOE</text>
<text transform="translate(17.0 387.5) rotate(-90)" text-anchor="middle" font-size="20.5">FOE</text>
<text x="364.3" y="545.8" text-anchor="middle" font-size="20.5">Time(hr)</text>
<rect x="496.6" y="87.2" width="162.8" height="53.1" fill="#fff" stroke="#4d4d4d" stroke-width="1.1"/>
<path d="M501.8 101.5H553" stroke="#000" stroke-width="1.4"/>
<path d="M522.5 126.2H532.9M527.7 121.0V131.4" stroke="#0072BD" stroke-width="3.4" fill="none"/>
<text x="557.0" y="108.6" font-size="18.4">Simulation</text>
<text x="557.0" y="133.1" font-size="18.4">E-RNN</text>
</g>
</svg>
</body>
</html>
